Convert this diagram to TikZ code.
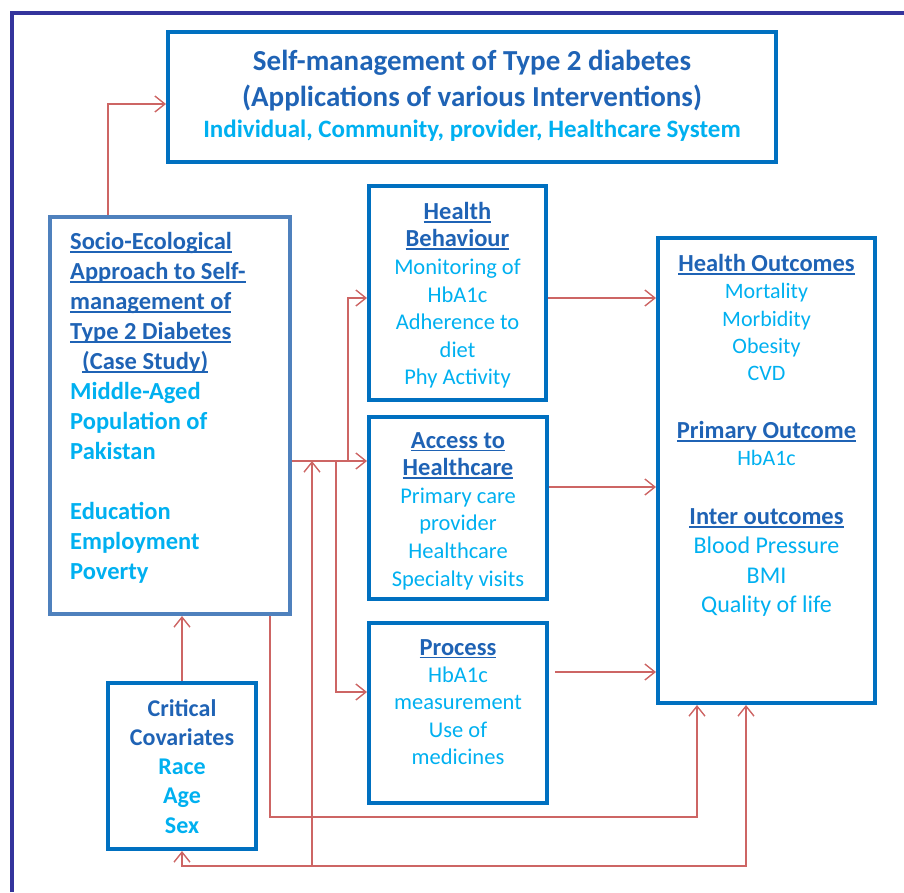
\documentclass[tikz,border=0pt]{standalone}
\usepackage{fontspec}
\setmainfont{Carlito}
\usepackage{xcolor}
\usepackage{tikz}
\usetikzlibrary{arrows.meta,positioning}
\definecolor{boxblue}{HTML}{0070C0}
\definecolor{sociblue}{HTML}{4F81BD}
\definecolor{headblue}{HTML}{1F63B5}
\definecolor{itemblue}{HTML}{00B0F0}
\definecolor{linkred}{HTML}{CD6564}
\definecolor{framenavy}{HTML}{34349C}
\newcommand{\uln}[1]{\setbox0=\hbox{#1}\rlap{\rule[-0.13em]{\wd0}{0.07em}}\box0}
\newcommand{\hdtxt}[1]{{\fontsize{24.5}{30}\selectfont\bfseries\color{headblue}\uln{#1}}}
\tikzset{
  >={Straight Barb[length=10pt,width=16pt]},
  box/.style={draw=boxblue, line width=4pt, rectangle},
  txt/.style={inner sep=0pt, align=center, text=itemblue},
  conn/.style={draw=linkred, line width=1.4pt, ->},
}

\begin{document}
\begin{tikzpicture}[x=1pt,y=-1pt]
\useasboundingbox (0,0) rectangle (904,892);
\draw[framenavy, line width=3.5pt] (12,892) |- (904,13);

\node[box, minimum width=608, minimum height=130] (title) at (472,97) {};
\node[box, draw=sociblue, minimum width=240, minimum height=397] (socio) at (170,415.5) {};
\node[box, minimum width=177, minimum height=214] (hb) at (457.5,293) {};
\node[box, minimum width=178, minimum height=182] (acc) at (458,508) {};
\node[box, minimum width=178, minimum height=180] (proc) at (458,713) {};
\node[box, minimum width=217, minimum height=465] (out) at (766.5,470.5) {};
\node[box, minimum width=148, minimum height=166] (crit) at (182,766) {};

\node[txt, below=19.5pt of title.north, font=\bfseries\fontsize{29}{36}\selectfont, text=headblue] (titletxt)
  {Self-management of Type 2 diabetes\\
   (Applications of various Interventions)\\[-5pt]
   \fontsize{25}{30}\selectfont\color{itemblue}Individual, Community, provider, Healthcare System};
\node[txt, align=left, below right=17pt and 22pt of socio.north west, font=\bfseries\fontsize{24.5}{30}\selectfont] (socitxt)
  {\hdtxt{Socio-Ecological}\\ \hdtxt{Approach to Self-}\\ \hdtxt{management of}\\ \hdtxt{Type 2 Diabetes}\\
   \hspace{12pt}\hdtxt{(Case Study)}\\ Middle-Aged\\ Population of\\ Pakistan\\[30pt]
   Education\\ Employment\\ Poverty};
\node[txt, below=18pt of hb.north, font=\fontsize{22.5}{27.6}\selectfont] (hbtxt)
  {\hdtxt{Health}\\ \hdtxt{Behaviour}\\ Monitoring of\\ HbA1c\\ Adherence to\\ diet\\ Phy Activity};
\node[txt, below=17pt of acc.north, font=\fontsize{22.5}{27.6}\selectfont] (acctxt)
  {\hdtxt{Access to}\\ \hdtxt{Healthcare}\\ Primary care\\ provider\\ Healthcare\\ Specialty visits};
\node[txt, below=18pt of proc.north, font=\fontsize{22.5}{27.3}\selectfont] (proctxt)
  {\hdtxt{Process}\\ HbA1c\\ measurement\\ Use of\\ medicines};
\node[txt, below=18pt of out.north, font=\fontsize{22}{27.3}\selectfont] (outtxt)
  {\hdtxt{Health Outcomes}\\ Mortality\\ Morbidity\\ Obesity\\ CVD\\[30.7pt]
   \hdtxt{Primary Outcome}\\ HbA1c\\[31.7pt]
   \hdtxt{Inter outcomes}\\[1.7pt]
   \fontsize{24}{29}\selectfont Blood Pressure\\[2.7pt]
   \fontsize{24}{29}\selectfont BMI\\[1.7pt]
   \fontsize{24}{29}\selectfont Quality of life};
\node[txt, below=18pt of crit.north, font=\bfseries\fontsize{24}{29.3}\selectfont] (crittxt)
  {\textcolor{headblue}{Critical}\\ \textcolor{headblue}{Covariates}\\ Race\\ Age\\ Sex};

\coordinate (jhb) at (348,461);
\coordinate (jpr) at (336,461);
\coordinate (jup) at (312,461);
\coordinate (jlow) at (312,866);
\draw[conn] ([xshift=-62]socio.north) |- ([yshift=-7]title.west);
\draw[conn] (socio.east |- jhb) -- (acc.west |- jhb);
\draw[conn] (jhb) |- ([yshift=-5]hb.west);
\draw[conn] (jpr) |- ([yshift=21]proc.west);
\draw[conn] (jlow) -- (jup);
\draw[conn] ([yshift=-5]hb.east) -- ([yshift=-5]hb.east -| out.west);
\draw[conn] ([yshift=21]acc.east) -- ([yshift=21]acc.east -| out.west);
\draw[conn] ([xshift=6,yshift=41]proc.east) -- ([yshift=41]proc.east -| out.west);
\draw[conn] ([xshift=100]socio.south) -- ++(0,201) -| ([xshift=-69.5]out.south);
\draw[conn, <->] (crit.south) |- (jlow) -| ([xshift=-20.5]out.south);
\draw[conn] (crit.north) -- (crit.north |- socio.south);
\end{tikzpicture}
\end{document}
